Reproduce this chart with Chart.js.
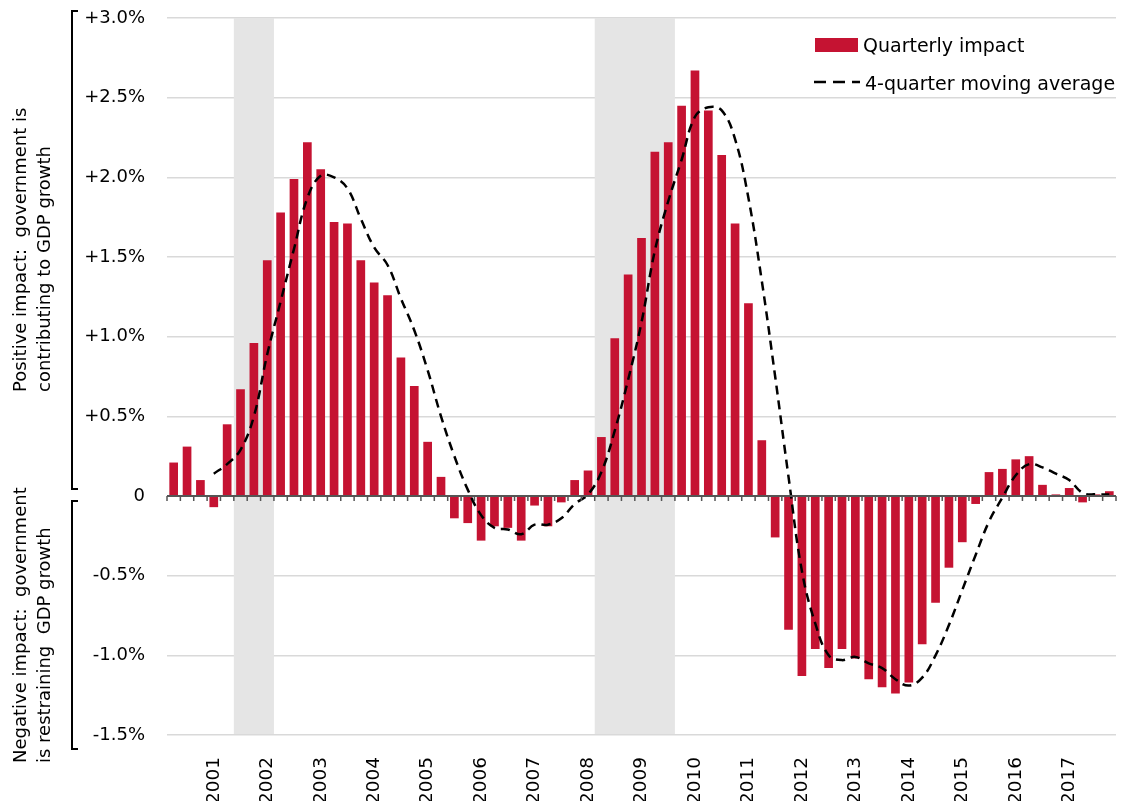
<!DOCTYPE html>
<html>
<head>
<meta charset="utf-8">
<script src="https://cdn.jsdelivr.net/npm/chart.js@4.4.1/dist/chart.umd.min.js"></script>
<style>
  body { margin: 0; background: #fff; }
  #wrap { position: relative; width: 1125px; height: 801px; overflow: hidden;
          font-family: 'DejaVu Sans', sans-serif; color: #000; }
  #chart { position: absolute; left: 0; top: 0; }
  .side { position: absolute; left: 8px; transform-origin: 0 0; transform: rotate(-90deg);
          white-space: pre; font-size: 18px; line-height: 24px; }
  .bracket { position: absolute; left: 71px; width: 5px; border: 2px solid #000; border-right: none; }
  .leg { position: absolute; font-size: 19px; line-height: 20px; white-space: nowrap; }
</style>
</head>
<body>
<div id="wrap">
  <canvas id="chart" width="1125" height="801"></canvas>

  <div class="bracket" style="top:10px; height:476px;"></div>
  <div class="bracket" style="top:500px; height:246px;"></div>
  <div class="side" style="top:392px;">Positive impact:  government is
contributing to GDP growth</div>
  <div class="side" style="top:763px;">Negative impact:  government
is restraining  GDP growth</div>

  <div style="position:absolute; left:815px; top:38px; width:43px; height:14px; background:#c51332;"></div>
  <div class="leg" style="left:863px; top:35px;">Quarterly impact</div>
  <svg style="position:absolute; left:814px; top:78px;" width="46" height="8">
    <line x1="0" y1="4" x2="46" y2="4" stroke="#000" stroke-width="2.5" stroke-dasharray="12 7"/>
  </svg>
  <div class="leg" style="left:865px; top:73px;">4-quarter moving average</div>
</div>

<script>
// quarters from 2000Q1 to 2017Q3
const quarters = [];
for (let y = 2000; y <= 2017; y++) {
    for (let q = 1; q <= 4; q++) {
        if (y === 2017 && q === 4) break;
        quarters.push(y + 'Q' + q);
    }
}

// year labels, each sits under the last quarter of the previous year
const yearLabels = ['2001', '2002', '2003', '2004', '2005', '2006', '2007', '2008', '2009',
                    '2010', '2011', '2012', '2013', '2014', '2015', '2016', '2017'];

// fiscal impact, percentage points of GDP growth
const quarterlyImpact = [
    0.21, 0.31, 0.10, -0.07, 0.45, 0.67, 0.96, 1.48, 1.78, 1.99,
    2.22, 2.05, 1.72, 1.71, 1.48, 1.34, 1.26, 0.87, 0.69, 0.34,
    0.12, -0.14, -0.17, -0.28, -0.19, -0.20, -0.28, -0.06, -0.19, -0.04,
    0.10, 0.16, 0.37, 0.99, 1.39, 1.62, 2.16, 2.22, 2.45, 2.67,
    2.42, 2.14, 1.71, 1.21, 0.35, -0.26, -0.84, -1.13, -0.96, -1.08,
    -0.96, -1.02, -1.15, -1.20, -1.24, -1.17, -0.93, -0.67, -0.45, -0.29,
    -0.05, 0.15, 0.17, 0.23, 0.25, 0.07, 0.01, 0.05, -0.04, 0.01,
    0.03
];

const movingAverage = [
    null, null, null, 0.14, 0.20, 0.29, 0.50, 0.89, 1.22, 1.55,
    1.87, 2.01, 2.00, 1.93, 1.74, 1.56, 1.45, 1.24, 1.04, 0.79,
    0.50, 0.25, 0.04, -0.12, -0.20, -0.21, -0.24, -0.18, -0.18, -0.14,
    -0.05, 0.01, 0.15, 0.41, 0.73, 1.09, 1.54, 1.85, 2.11, 2.38,
    2.44, 2.42, 2.24, 1.87, 1.35, 0.75, 0.12, -0.47, -0.80, -1.00,
    -1.03, -1.01, -1.05, -1.08, -1.15, -1.19, -1.14, -1.00, -0.81, -0.59,
    -0.37, -0.16, -0.01, 0.13, 0.20, 0.18, 0.14, 0.10, 0.02, 0.01,
    0.01
];

// recessions (first and last quarter)
const recessionStart = ['2001Q2', '2008Q1'];
const recessionEnd = ['2001Q4', '2009Q2'];

Chart.defaults.font.family = "'DejaVu Sans', sans-serif";
Chart.defaults.color = '#000';

// grey recession bands behind the bars
const recessionBands = {
    id: 'recessionBands',
    beforeDatasetsDraw(chart) {
        const { ctx, chartArea, scales: { x } } = chart;
        const w = x.getPixelForValue(1) - x.getPixelForValue(0);
        ctx.save();
        ctx.fillStyle = '#e5e5e5';
        recessionStart.forEach((s, i) => {
            const left = x.getPixelForValue(quarters.indexOf(s)) - w / 2;
            const right = x.getPixelForValue(quarters.indexOf(recessionEnd[i])) + w / 2;
            ctx.fillRect(left, chartArea.top, right - left, chartArea.bottom - chartArea.top - 1);
        });
        ctx.restore();
    }
};

// zero line with a small tick between quarters
const zeroAxis = {
    id: 'zeroAxis',
    afterDatasetsDraw(chart) {
        const { ctx, chartArea, scales: { x, y } } = chart;
        const y0 = y.getPixelForValue(0);
        const w = x.getPixelForValue(1) - x.getPixelForValue(0);
        ctx.save();
        ctx.strokeStyle = '#555';
        ctx.lineWidth = 2;
        ctx.beginPath();
        ctx.moveTo(chartArea.left, y0);
        ctx.lineTo(chartArea.right, y0);
        ctx.stroke();
        ctx.lineWidth = 1.5;
        ctx.beginPath();
        for (let i = 0; i <= quarters.length; i++) {
            const px = x.getPixelForValue(0) - w / 2 + i * w;
            ctx.moveTo(px, y0);
            ctx.lineTo(px, y0 + 5);
        }
        ctx.stroke();
        ctx.restore();
    }
};

new Chart(document.getElementById('chart'), {
    type: 'bar',
    data: {
        labels: quarters,
        datasets: [{
            type: 'line',
            label: '4-quarter moving average',
            data: movingAverage,
            borderColor: '#000',
            borderWidth: 2.5,
            borderDash: [9, 6],
            pointRadius: 0,
            tension: 0.4,
            fill: false,
            order: 0
        }, {
            label: 'Quarterly impact',
            data: quarterlyImpact,
            backgroundColor: '#c51332',
            barPercentage: 0.65,
            categoryPercentage: 1,
            order: 1
        }]
    },
    options: {
        responsive: false,
        animation: false,
        devicePixelRatio: 1,
        layout: { padding: { top: 18, right: 9, left: 0, bottom: 0 } },
        plugins: {
            legend: { display: false },
            tooltip: { enabled: false }
        },
        scales: {
            x: {
                grid: { display: false },
                border: { display: false },
                ticks: {
                    autoSkip: false,
                    minRotation: 90,
                    maxRotation: 90,
                    padding: 14,
                    font: { size: 18.5 },
                    callback: (v, i) => (i % 4 === 3 ? yearLabels[(i - 3) / 4] : '')
                },
                afterFit: scale => {
                    scale.height = 66;
                    scale.paddingLeft = 0;
                    scale.paddingRight = 0;
                }
            },
            y: {
                min: -1.5,
                max: 3.0,
                border: { display: false },
                grid: { color: '#d9d9d9', lineWidth: 1.5, drawTicks: false },
                ticks: {
                    stepSize: 0.5,
                    padding: 22,
                    font: { size: 18 },
                    callback: v => (v === 0 ? '0' : (v > 0 ? '+' : '') + v.toFixed(1) + '%')
                },
                afterFit: scale => {
                    scale.width = 167;
                    scale.paddingTop = 0;
                    scale.paddingBottom = 0;
                }
            }
        }
    },
    plugins: [recessionBands, zeroAxis]
});
</script>
</body>
</html>
